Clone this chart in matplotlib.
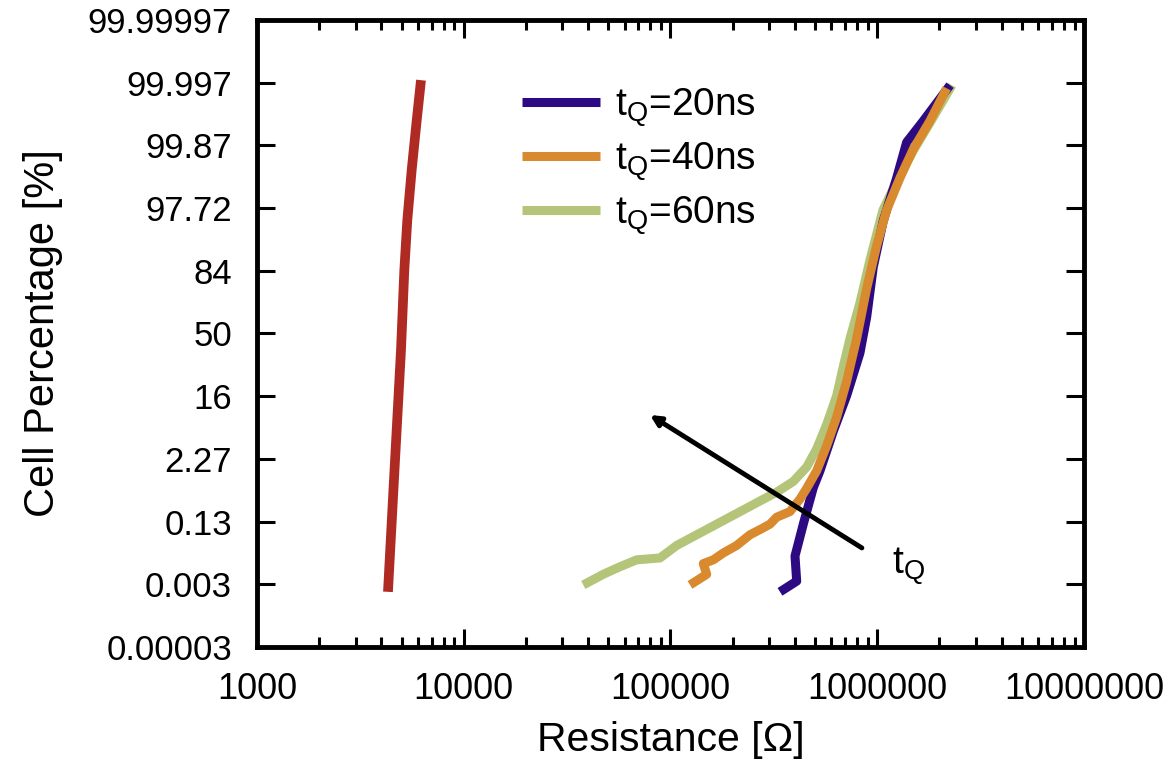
import numpy as np
import matplotlib.pyplot as plt
from matplotlib.ticker import LogLocator, NullFormatter

plt.rcParams['font.family'] = ['Liberation Sans', 'DejaVu Sans']
plt.rcParams['mathtext.fontset'] = 'custom'
plt.rcParams['mathtext.rm'] = 'Liberation Sans'
plt.rcParams['mathtext.it'] = 'Liberation Sans:italic'

################################### Data ###################################

# y values are in sigma units (normal probability scale)
sigma_ticks = [-5, -4, -3, -2, -1, 0, 1, 2, 3, 4, 5]
pct_labels = ['0.00003', '0.003', '0.13', '2.27', '16', '50', '84',
              '97.72', '99.87', '99.997', '99.99997']

# reference (red) curve
r_ref = [4300, 4624, 4972, 5159, 5334, 5601, 5923, 6212]
s_ref = [-4.12, -2.18, -0.26, 1.01, 1.81, 2.61, 3.40, 4.04]

# tQ = 20ns
r_20 = [338600, 407800, 400200, 438900, 490600, 528600, 613000, 711600,
        825000, 889000, 957000, 1070000, 1242000, 1388000, 1670000, 2249000]
s_20 = [-4.12, -3.95, -3.55, -3.04, -2.46, -2.19, -1.56, -0.99,
        -0.31, 0.26, 1.06, 1.80, 2.48, 3.05, 3.39, 3.96]

# tQ = 40ns
r_40 = [124300, 149700, 144100, 161100, 180100, 209000, 242400, 281000,
        302900, 326300, 378400, 423000, 455800, 509400, 569500, 636700,
        711600, 795500, 889000, 994000, 1111000, 1288000, 1494000,
        1799000, 2168000]
s_40 = [-4.01, -3.84, -3.67, -3.61, -3.50, -3.38, -3.21, -3.10,
        -3.04, -2.93, -2.84, -2.64, -2.47, -2.19, -1.79, -1.33,
        -0.76, -0.08, 0.72, 1.40, 1.97, 2.48, 2.94, 3.39, 3.91]

# tQ = 60ns
r_60 = [37860, 47320, 56970, 68630, 88960, 107200, 133900, 167300,
        209000, 261200, 326300, 392600, 455800, 509400, 569500, 636700,
        685000, 738300, 825000, 922000, 1066000, 1288000, 1522000,
        1860000, 2298000]
s_60 = [-4.01, -3.84, -3.72, -3.61, -3.58, -3.38, -3.21, -3.04,
        -2.87, -2.70, -2.53, -2.36, -2.13, -1.84, -1.45, -0.99,
        -0.53, -0.08, 0.49, 1.17, 1.97, 2.53, 2.96, 3.44, 3.96]

################################### Plotting ###################################

fig = plt.figure(figsize=(11.73, 7.77), dpi=100)
ax = fig.add_axes([0.2191, 0.1673, 0.705, 0.807])

lw = 6.5
ax.plot(r_ref, s_ref, color='#b02a24', lw=7, solid_capstyle='butt')
ax.plot(r_60, s_60, color='#b4c57a', lw=lw, solid_capstyle='butt', label='t$_\\mathrm{Q}$=60ns')
ax.plot(r_20, s_20, color='#2e0a82', lw=lw, solid_capstyle='butt', label='t$_\\mathrm{Q}$=20ns')
ax.plot(r_40, s_40, color='#d98a2e', lw=lw, solid_capstyle='butt', label='t$_\\mathrm{Q}$=40ns')

# arrow showing increasing tQ
ax.annotate('', xy=(79600, -1.30), xytext=(843000, -3.42),
            arrowprops=dict(arrowstyle='-|>,head_length=0.6,head_width=0.3',
                            color='black', lw=3.5, shrinkA=0, shrinkB=0))
ax.text(1180000, -3.72, 't$_\\mathrm{Q}$', fontsize=28, ha='left', va='center')

ax.set_xscale('log')
ax.set_xlim(1000, 1e7)
ax.set_ylim(-5, 5)
ax.set_xticks([1e3, 1e4, 1e5, 1e6, 1e7])
ax.set_xticklabels(['1000', '10000', '100000', '1000000', '10000000'])
ax.xaxis.set_minor_locator(LogLocator(base=10, subs=np.arange(2, 10)))
ax.xaxis.set_minor_formatter(NullFormatter())
ax.set_yticks(sigma_ticks)
ax.set_yticklabels(pct_labels)

ax.tick_params(which='both', direction='in', top=True, right=True, pad=18)
ax.tick_params(axis='y', labelsize=25)
ax.tick_params(axis='x', labelsize=26)
ax.tick_params(which='major', length=13, width=2.2)
ax.tick_params(which='minor', length=7, width=2.2)
for sp in ax.spines.values():
    sp.set_linewidth(3.5)

ax.set_xlabel('Resistance [\u03a9]', fontsize=29.5, labelpad=10)
ax.set_ylabel('Cell Percentage [%]', fontsize=30, labelpad=18)

h, l = ax.get_legend_handles_labels()
order = [1, 2, 0]
ax.legend([h[i] for i in order], [l[i] for i in order], loc='upper left',
          bbox_to_anchor=(0.297, 0.925), frameon=False, fontsize=28,
          handlelength=2.0, handletextpad=0.4, labelspacing=0.3, borderpad=0)

fig.savefig('out.png', dpi=100)
